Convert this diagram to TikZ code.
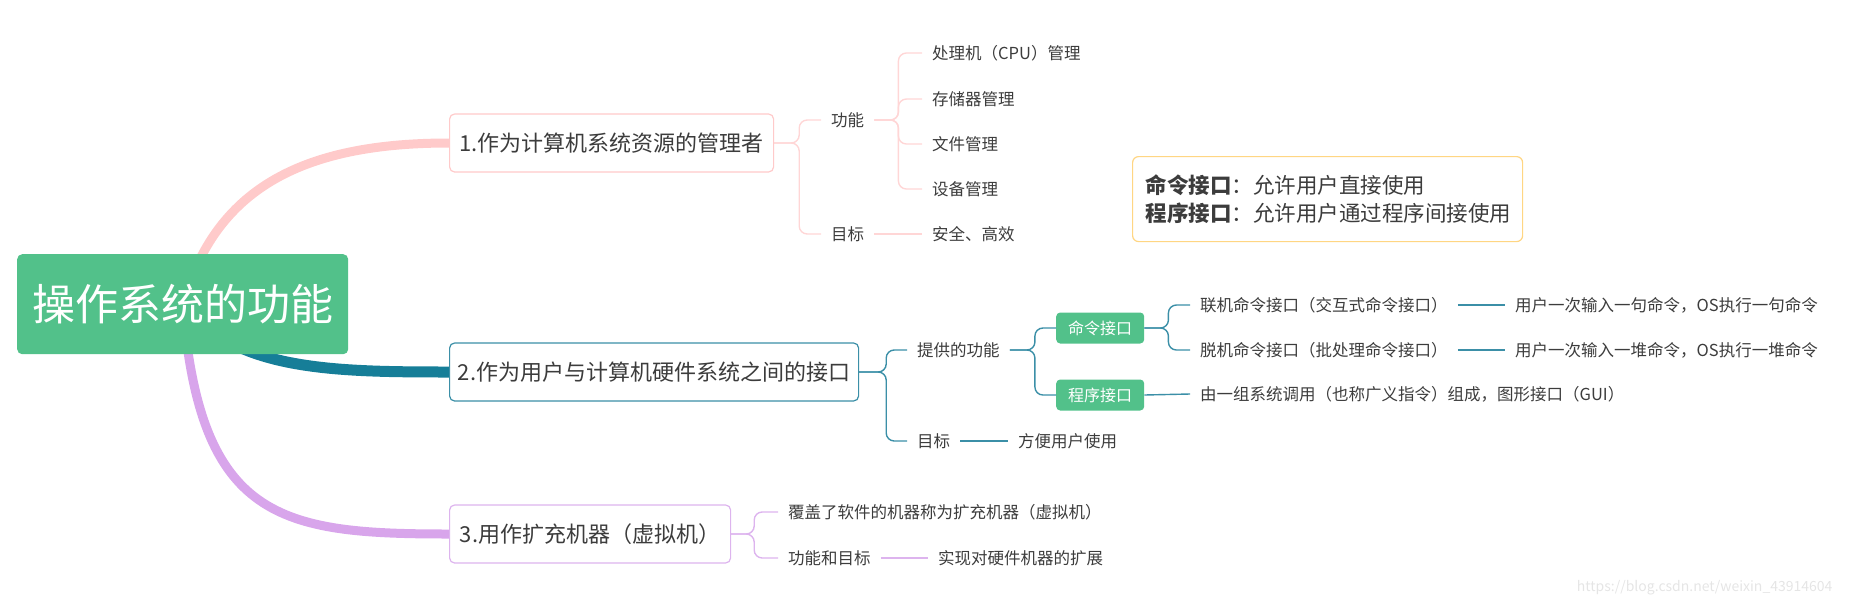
\documentclass[tikz,border=0pt]{standalone}
\usepackage{fontspec}
\setmainfont{Noto Sans CJK SC}
\usetikzlibrary{backgrounds}

\definecolor{rootgreen}{HTML}{52C18A}
\definecolor{pinkline}{HTML}{FFCACA}
\definecolor{pinktwig}{HTML}{FFD6D6}
\definecolor{tealline}{HTML}{167E98}
\definecolor{tealtwig}{HTML}{3B8FA7}
\definecolor{lilacline}{HTML}{D8A5EB}
\definecolor{lilactwig}{HTML}{DDB4EE}
\definecolor{notebrd}{HTML}{FFD683}
\definecolor{txtgray}{HTML}{3C3C3C}

\newcommand{\pxfont}[2]{\fontsize{#1}{#2}\selectfont}

\begin{document}
\begin{tikzpicture}[x=1pt, y=-1pt,
  rootbox/.style={fill=rootgreen, rounded corners=5pt, text=white, font=\pxfont{43}{50},
    minimum width=331pt, minimum height=100pt, inner sep=0pt},
  topic/.style={draw, fill=white, rounded corners=5pt, line width=1.2pt, text=txtgray,
    font=\pxfont{22}{26}, minimum height=58pt, inner sep=0pt},
  leaf/.style={text=txtgray, font=\pxfont{16.5}{19}, inner xsep=10pt, inner ysep=3pt},
  tagbox/.style={fill=rootgreen, rounded corners=4pt, text=white, font=\pxfont{16}{19},
    minimum width=88pt, minimum height=31pt, inner sep=0pt},
  notebox/.style={draw=notebrd, line width=1.2pt, rounded corners=6pt, fill=white, text=txtgray,
    font=\pxfont{21.5}{28}, align=left, text width=364pt, minimum height=85pt, inner xsep=13pt},
  twig/.style={line width=1.4pt, rounded corners=8pt}]

\useasboundingbox (0,0) rectangle (1862,600);

% central topic
\node[rootbox, anchor=north west] (root) at (17,254) {操作系统的功能};

% 1. resource manager
\node[topic, draw=pinkline, minimum width=324pt, anchor=west] (b1) at (449,143) {1.作为计算机系统资源的管理者};
\node[leaf, anchor=west] (gn1) at (821,120) {功能};
\node[leaf, anchor=west] (gm1) at (821,234) {目标};
\node[leaf, anchor=west] (p1) at (922,53) {处理机（CPU）管理};
\node[leaf, anchor=west] (p2) at (922,99) {存储器管理};
\node[leaf, anchor=west] (p3) at (922,144) {文件管理};
\node[leaf, anchor=west] (p4) at (922,189) {设备管理};
\node[leaf, anchor=west] (s1) at (922,234) {安全、高效};

% 2. interface
\node[topic, draw=tealtwig, minimum width=409pt, anchor=west] (b2) at (449,372) {2.作为用户与计算机硬件系统之间的接口};
\node[leaf, anchor=west] (tf) at (907,350) {提供的功能};
\node[leaf, anchor=west] (gm2) at (907,441) {目标};
\node[leaf, anchor=west] (fy) at (1008,441) {方便用户使用};
\node[tagbox, anchor=west] (cmd) at (1056,328) {命令接口};
\node[tagbox, anchor=west] (prog) at (1056,395) {程序接口};
\node[leaf, anchor=west] (lj) at (1190,305) {联机命令接口（交互式命令接口）};
\node[leaf, anchor=west] (tj) at (1190,350) {脱机命令接口（批处理命令接口）};
\node[leaf, anchor=west] (ly) at (1505,305) {用户一次输入一句命令，OS执行一句命令};
\node[leaf, anchor=west] (ty) at (1505,350) {用户一次输入一堆命令，OS执行一堆命令};
\node[leaf, anchor=west] (yz) at (1190,394) {由一组系统调用（也称广义指令）组成，图形接口（GUI）};

% 3. extended machine
\node[topic, draw=lilactwig, minimum width=281pt, anchor=west] (b3) at (449,534) {3.用作扩充机器（虚拟机）};
\node[leaf, anchor=west] (fg) at (778,512) {覆盖了软件的机器称为扩充机器（虚拟机）};
\node[leaf, anchor=west] (gm3) at (778,558) {功能和目标};
\node[leaf, anchor=west] (sx) at (928,558) {实现对硬件机器的扩展};

% note
\node[notebox, anchor=north west] (note) at (1132,156)
  {\textbf{命令接口}：允许用户直接使用\\\textbf{程序接口}：允许用户通过程序间接使用};

\node[font=\pxfont{14}{14}, text=black!10, anchor=east] (wm) at (1836,588) {https://blog.csdn.net/weixin\_43914604};

% main branches
\begin{scope}[on background layer]
\draw[pinkline, line width=9pt] (root.center) .. controls (215,190) and (300,143) .. (b1.west);
\draw[tealline, line width=11pt] (root.center) .. controls (235,370) and (330,372) .. (b2.west);
\draw[lilacline, line width=9pt] (root.center) .. controls (200,520) and (280,534) .. (b3.west);
\end{scope}

% sub branches
\foreach \n in {gn1,gm1} \draw[twig, pinktwig] (b1.east) -- ++(25,0) |- (\n.west);
\foreach \n in {p1,p2,p3,p4} \draw[twig, pinktwig] (gn1.east) -- ++(24,0) |- (\n.west);
\draw[twig, pinktwig] (gm1.east) -- (s1.west);

\foreach \n in {tf,gm2} \draw[twig, tealtwig] (b2.east) -- ++(27,0) |- (\n.west);
\foreach \n in {cmd,prog} \draw[twig, tealtwig] (tf.east) -- ++(25,0) |- (\n.west);
\foreach \n in {lj,tj} \draw[twig, tealtwig] (cmd.east) -- ++(24,0) |- (\n.west);
\draw[twig, tealtwig] (gm2.east) -- (fy.west);
\draw[twig, tealtwig] (lj.east) -- (ly.west);
\draw[twig, tealtwig] (tj.east) -- (ty.west);
\draw[twig, tealtwig] (prog.east) -- (yz.west);

\foreach \n in {fg,gm3} \draw[twig, lilactwig] (b3.east) -- ++(23,0) |- (\n.west);
\draw[twig, lilactwig] (gm3.east) -- (sx.west);

\end{tikzpicture}
\end{document}
